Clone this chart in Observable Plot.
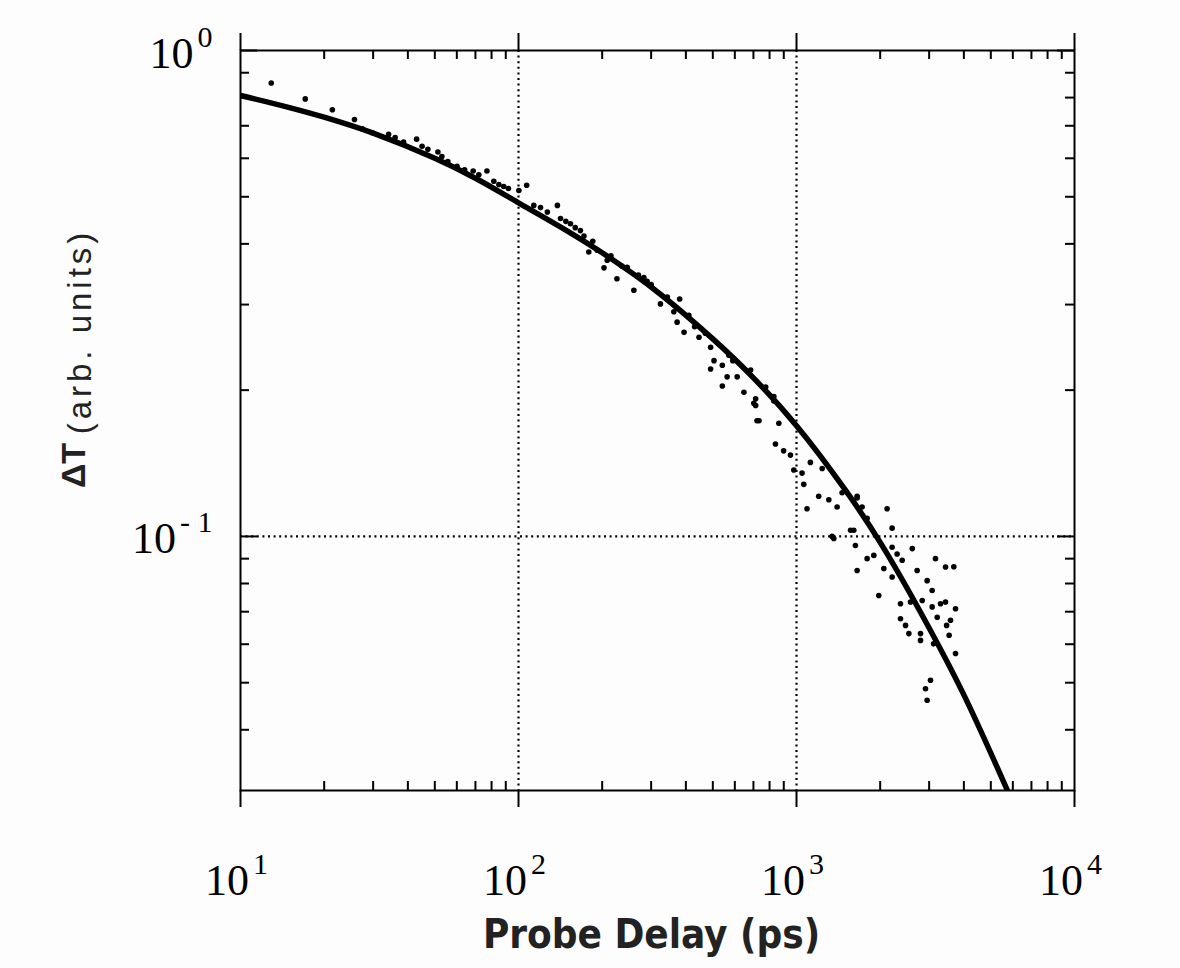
<!DOCTYPE html>
<html>
<head>
<meta charset="utf-8">
<script src="https://cdn.jsdelivr.net/npm/d3@7"></script>
<script src="https://cdn.jsdelivr.net/npm/@observablehq/plot@0.6"></script>
<style>
  html, body { margin: 0; padding: 0; background: #fdfdfd; }
  #chart svg { display: block; background: #fdfdfd; }
</style>
</head>
<body>
<div id="chart"></div>
<script>
// ---- data ----
const delayPs = [12.9, 17.1, 21.4, 25.7, 27.4, 29.8, 34.1, 36, 38.6, 43, 45, 47.2, 51.3, 53, 55.7, 60.1, 64, 68.7, 72, 77, 81.5, 85, 88.5, 92, 100.3, 107, 113.5, 120, 127, 138, 141.6, 148, 153.8, 160, 167, 172, 179, 185, 192, 203, 208.5, 215, 226, 235, 246, 260, 270, 282.5, 290, 300, 324, 343, 362, 372, 380, 394, 410, 430, 446, 470, 491, 505, 491, 541, 571, 563, 541, 590, 612, 647, 684, 702, 713, 713, 721, 733, 775, 829, 829, 840, 864, 899, 951, 978, 1047, 1062, 1091, 1122, 1202, 1237, 1307, 1343, 1362, 1400, 1459, 1565, 1607, 1629, 1652, 1652, 1652, 1722, 1795, 1795, 1897, 1977, 2061, 2118, 2208, 2208, 2208, 2301, 2366, 2366, 2400, 2467, 2536, 2570, 2609, 2716, 2793, 2793, 2833, 2911, 2951, 2951, 3034, 3076, 3076, 3112, 3162, 3208, 3296, 3436, 3436, 3467, 3540, 3581, 3680, 3733, 3733];
const deltaT = [0.857, 0.795, 0.755, 0.721, 0.690, 0.677, 0.672, 0.662, 0.648, 0.657, 0.635, 0.626, 0.618, 0.605, 0.591, 0.578, 0.568, 0.565, 0.555, 0.565, 0.538, 0.530, 0.525, 0.520, 0.515, 0.528, 0.480, 0.475, 0.465, 0.480, 0.451, 0.445, 0.440, 0.432, 0.426, 0.415, 0.385, 0.405, 0.388, 0.357, 0.370, 0.378, 0.339, 0.360, 0.358, 0.321, 0.345, 0.341, 0.335, 0.330, 0.301, 0.311, 0.290, 0.276, 0.308, 0.263, 0.285, 0.270, 0.257, 0.262, 0.245, 0.230, 0.221, 0.225, 0.236, 0.213, 0.204, 0.230, 0.213, 0.198, 0.220, 0.188, 0.192, 0.186, 0.173, 0.173, 0.203, 0.190, 0.194, 0.155, 0.171, 0.150, 0.147, 0.137, 0.135, 0.128, 0.114, 0.142, 0.121, 0.138, 0.119, 0.100, 0.099, 0.115, 0.123, 0.103, 0.103, 0.0958, 0.121, 0.120, 0.0851, 0.115, 0.109, 0.090, 0.0914, 0.0756, 0.0859, 0.114, 0.104, 0.095, 0.0825, 0.092, 0.0727, 0.0677, 0.0893, 0.0656, 0.0631, 0.0733, 0.0944, 0.0851, 0.0631, 0.0611, 0.0738, 0.0486, 0.0811, 0.046, 0.0506, 0.0774, 0.0716, 0.0601, 0.090, 0.0682, 0.0727, 0.0865, 0.0733, 0.0656, 0.0626, 0.0672, 0.0866, 0.0710, 0.0574];

const fitDelay = [10, 15, 20, 30, 50, 70, 100, 150, 200, 300, 500, 700, 1000, 1500, 2000, 3000, 4000, 5740];
const fitDeltaT = [0.808, 0.763, 0.729, 0.676, 0.600, 0.546, 0.486, 0.425, 0.3835, 0.326, 0.255, 0.212, 0.169, 0.1245, 0.0972, 0.0648, 0.0472, 0.030];

const xMajorTicks = [10, 100, 1000, 10000];
const xTickExponents = ["1", "2", "3", "4"];
const yMajorTicks = [1, 0.1];
const yTickExponents = ["0", "-\u00a01"];
const xGrid = [100, 1000];
const yGrid = [0.1];
const xMinorTicks = [20, 30, 40, 50, 60, 70, 80, 90, 200, 300, 400, 500, 600, 700, 800, 900, 2000, 3000, 4000, 5000, 6000, 7000, 8000, 9000];
const yMinorTicks = [0.04, 0.05, 0.06, 0.07, 0.08, 0.09, 0.2, 0.3, 0.4, 0.5, 0.6, 0.7, 0.8, 0.9];

const xTitle = "Probe Delay (ps)";
const yTitleSymbol = "ΔT";
const yTitleUnits = "(arb. units)";

// ---- chart ----
const points = delayPs.map((d, i) => ({x: d, y: deltaT[i]}));
const fit = fitDelay.map((d, i) => ({x: d, y: fitDeltaT[i]}));

const W = 1180, H = 968;
const mL = 240, mR = 106, mT = 50, mB = 178;
const fw = W - mL - mR, fh = H - mT - mB;
const serif = "'Liberation Serif', 'Times New Roman', 'DejaVu Serif', serif";
const sans = "'Liberation Sans', Arial, 'DejaVu Sans', sans-serif";
const narrow = "'Liberation Sans Narrow', 'DejaVu Sans Condensed', 'Liberation Sans', sans-serif";

const chart = Plot.plot({
  width: W, height: H,
  marginLeft: mL, marginRight: mR, marginTop: mT, marginBottom: mB,
  style: {background: "#fdfdfd", color: "black"},
  x: {type: "log", domain: [10, 10000], axis: null},
  y: {type: "log", domain: [0.03, 1], axis: null},
  marks: [
    // dotted grid
    Plot.ruleX(xGrid, {x: d => d, stroke: "black", strokeWidth: 2.2, strokeDasharray: "2,3.6"}),
    Plot.ruleY(yGrid, {y: d => d, stroke: "black", strokeWidth: 2.2, strokeDasharray: "2,3.6"}),
    // minor ticks (inward)
    Plot.tickX(xMinorTicks, {x: d => d, insetTop: fh - 9, stroke: "black", strokeWidth: 2}),
    Plot.tickX(xMinorTicks, {x: d => d, insetBottom: fh - 9, stroke: "black", strokeWidth: 2}),
    Plot.tickY(yMinorTicks, {y: d => d, insetRight: fw - 9, stroke: "black", strokeWidth: 2}),
    Plot.tickY(yMinorTicks, {y: d => d, insetLeft: fw - 9, stroke: "black", strokeWidth: 2}),
    // major ticks
    Plot.tickX(xMajorTicks, {x: d => d, insetTop: fh, insetBottom: -17, stroke: "black", strokeWidth: 2}),
    Plot.tickX(xMajorTicks, {x: d => d, insetTop: -17, insetBottom: fh, stroke: "black", strokeWidth: 2}),
    Plot.tickY(yMajorTicks, {y: d => d, insetRight: fw - 17, stroke: "black", strokeWidth: 2}),
    Plot.tickY(yMajorTicks, {y: d => d, insetLeft: fw - 17, stroke: "black", strokeWidth: 2}),
    Plot.frame({stroke: "black", strokeWidth: 2}),
    // data
    Plot.dot(points, {x: "x", y: "y", r: 2.8, fill: "black", stroke: "none"}),
    Plot.line(fit, {x: "x", y: "y", stroke: "black", strokeWidth: 5.5, curve: "catmull-rom", clip: true}),
    // tick labels
    Plot.text(xMajorTicks, {x: d => d, frameAnchor: "bottom", text: (d, i) => "10^" + xTickExponents[i],
      textAnchor: "middle", lineAnchor: "bottom", dx: -4, dy: 104, fontSize: 44, fontFamily: serif, fill: "black"}),
    Plot.text(yMajorTicks, {y: d => d, frameAnchor: "left", text: (d, i) => "10^" + yTickExponents[i],
      textAnchor: "end", lineAnchor: "bottom", dx: -28, dy: 17, fontSize: 44, fontFamily: serif, fill: "black"}),
    // axis titles
    Plot.text([xTitle], {frameAnchor: "bottom", text: d => d, textAnchor: "middle", lineAnchor: "bottom",
      dx: -6, dy: 157, fontSize: 40, fontWeight: "bold", fontFamily: narrow, fill: "#222"}),
    Plot.text([yTitleSymbol], {frameAnchor: "left", text: d => d, rotate: -90, textAnchor: "middle", lineAnchor: "bottom",
      dx: -156, dy: 45, fontSize: 34, fontWeight: "bold", fontFamily: sans, fill: "#222"}),
    Plot.text([yTitleUnits], {frameAnchor: "left", text: d => d, rotate: -90, textAnchor: "middle", lineAnchor: "bottom",
      dx: -150, dy: -89, fontSize: 33, fontFamily: sans, fill: "#222"})
  ]
});

// superscripts for the tick labels
const ns = "http://www.w3.org/2000/svg";
chart.querySelectorAll("text").forEach(el => {
  const m = /^10\^(.+)$/.exec(el.textContent);
  if (m) {
    el.textContent = "10";
    const ts = document.createElementNS(ns, "tspan");
    ts.setAttribute("dx", "4");
    ts.setAttribute("dy", "-21");
    ts.setAttribute("font-size", "30");
    ts.textContent = m[1];
    el.appendChild(ts);
  }
  if (el.textContent === yTitleUnits) el.setAttribute("letter-spacing", "4");
});

document.getElementById("chart").appendChild(chart);
</script>
</body>
</html>
